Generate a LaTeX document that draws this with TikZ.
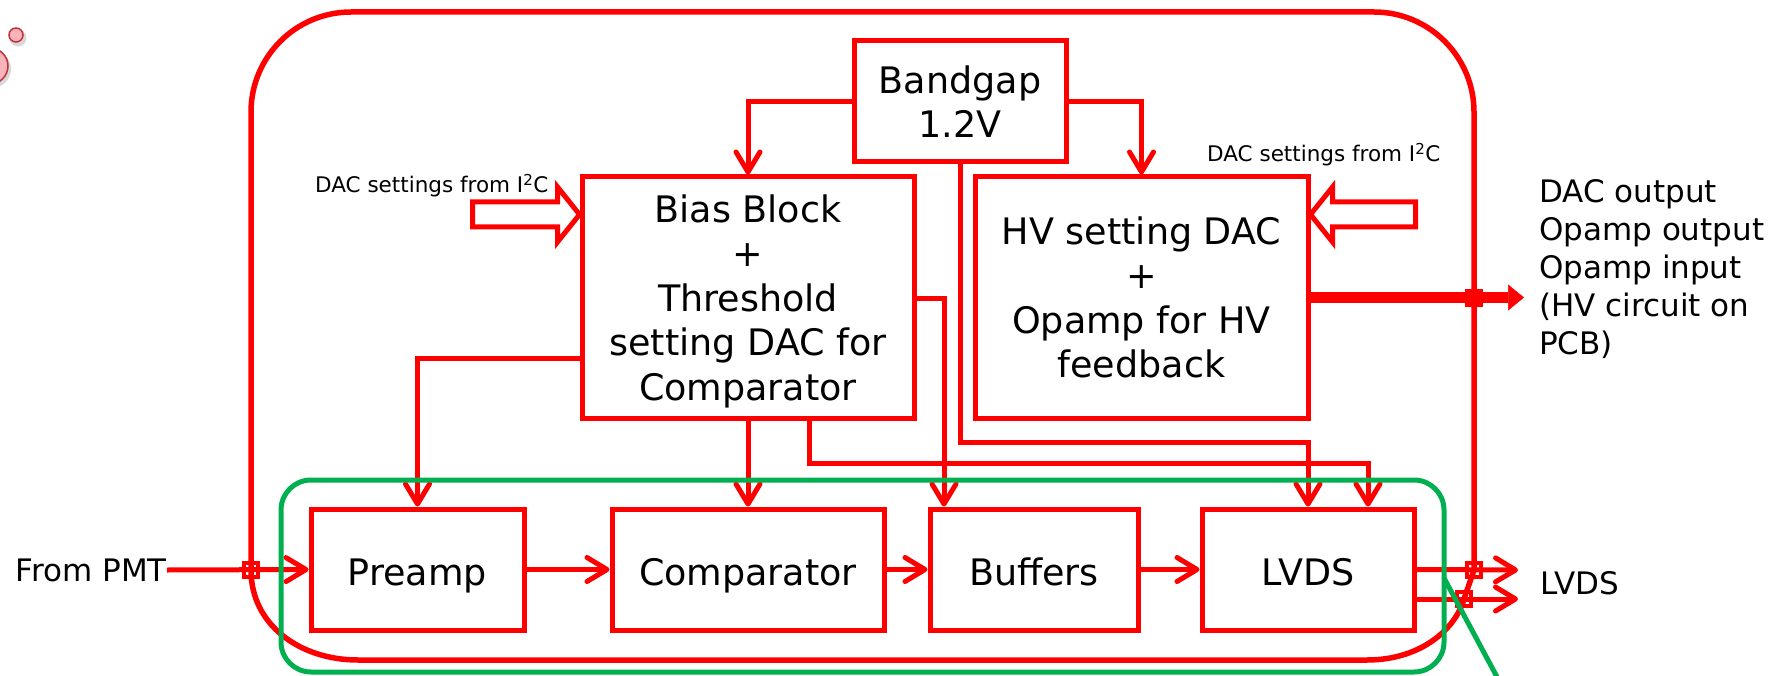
\documentclass[tikz,border=0pt]{standalone}
\usepackage{fontspec}
\setmainfont{DejaVu Sans}
\usetikzlibrary{arrows.meta}
\definecolor{sigred}{RGB}{255,0,0}
\definecolor{boxgreen}{RGB}{0,176,80}
\definecolor{bubblefill}{RGB}{248,180,186}
\definecolor{bubbleline}{RGB}{196,48,58}
\newcommand\blkfont{\fontsize{36.5}{44.5}\selectfont}
\newcommand\lblfont{\fontsize{31}{38}\selectfont}
\newcommand\dacfont{\fontsize{21.5}{26}\selectfont}
\begin{document}
\begin{tikzpicture}[x=1pt,y=-1pt,
  blk/.style={draw=sigred, line width=5pt, align=center, inner sep=0pt, font=\blkfont},
  rowblk/.style={blk, minimum height=121pt, text height=31pt, text depth=0pt},
  sig/.style={draw=sigred, line width=5pt},
  ar/.style={sig, -{Straight Barb[length=20pt,width=24pt,round]}},
  pad/.style={draw=sigred, line width=4pt, rectangle, minimum size=14pt, inner sep=0pt},
  hollow/.style={draw=sigred, fill=white, line width=5pt, line join=miter},
  grn/.style={draw=boxgreen, line width=5pt},
  lbl/.style={inner sep=0pt, font=\lblfont},
  dac/.style={inner sep=0pt, font=\dacfont, anchor=base west}]
\useasboundingbox (0,0) rectangle (1779,676);
\clip (0,0) rectangle (1779,676);

% decorative bubbles in the corner
\fill[black!25, opacity=0.6] (18,38) circle[radius=8.5pt];
\draw[bubbleline, fill=bubblefill, line width=1.5pt] (16,35) circle[radius=7pt];
\fill[black!25, opacity=0.6] (-8,69) circle[radius=19pt];
\draw[bubbleline, fill=bubblefill, line width=1.5pt] (-10,66) circle[radius=18pt];

% chip pads
\coordinate (pL) at (251,570);
\coordinate (pR1) at (1474,570);
\coordinate (pR2) at (1464,599);
\coordinate (pHV) at (1474,297.5);

% chip outline
\draw[sig, line width=5.5pt] (pL) -- (251,112) .. controls (251,56.8) and (295.8,12) .. (351,12)
  -- (1374,12) .. controls (1429.2,12) and (1474,56.8) .. (1474,112)
  -- (pR1) -- (pR2) .. controls (1455,630) and (1420,660) .. (1367,660)
  -- (358,660) .. controls (300,660) and (251,625) .. (pL);

% blocks
\node[blk, minimum width=212pt, minimum height=121pt] (bg) at (960,101.5) {Bandgap\\1.2V};
\node[blk, minimum width=332pt, minimum height=241pt, text depth=0pt] (bias) at (748,297.5)
  {Bias Block\\+\\Threshold\\setting DAC for\\Comparator};
\node[blk, minimum width=333pt, minimum height=241pt] (hv) at (1141.5,297.5)
  {HV setting DAC\\+\\Opamp for HV\\feedback};
\node[rowblk, minimum width=213pt] (pre) at (417.5,569.5) {Preamp};
\node[rowblk, minimum width=272pt] (cmp) at (748,569.5) {Comparator};
\node[rowblk, minimum width=208pt] (buf) at (1034,569.5) {Buffers};
\node[rowblk, minimum width=212pt] (lvds) at (1308,569.5) {LVDS};

% labels
\node[lbl, anchor=east] (pmt) at (167,570) {From PMT};
\node[lbl, anchor=west] (lvdslbl) at (1540,583.7) {LVDS};
\node[lbl, align=left, anchor=north west] (dacout) at (1539,179.4)
  {DAC output\\Opamp output\\Opamp input\\(HV circuit on\\PCB)};
\node[dac] (dacL) at (315,193) {DAC settings from I\textsuperscript{2}C};
\node[dac] (dacR) at (1207,162) {DAC settings from I\textsuperscript{2}C};

% routing points
\coordinate (j1) at (960,442);
\coordinate (j2) at (416,358);
\coordinate (j3) at (809,463);
\coordinate (j4) at (1368,463);
\coordinate (j5) at (944,298);
\coordinate (out1) at (1518,570);
\coordinate (out2) at (1518,599);
\coordinate (hvout) at (1524,297.5);

% signal chain
\draw[ar] (pmt.east) -- (pre.west);
\draw[ar] (pre.east) -- (cmp.west);
\draw[ar] (cmp.east) -- (buf.west);
\draw[ar] (buf.east) -- (lvds.west);
\draw[ar] (lvds.east) -- (out1);
\draw[ar] (lvds.east |- out2) -- (out2);

% references and biases
\draw[ar] (bg.west) -| (bias.north);
\draw[ar] (bg.east) -| (hv.north);
\draw[ar] (bg.south) -- (j1) -| (lvds.north);
\draw[ar] (bias.west |- j2) -| (pre.north);
\draw[ar] (bias.south) -- (cmp.north);
\draw[ar] (bias.south -| j3) -- (j3) -- (j4) -- (lvds.north -| j4);
\draw[ar] (bias.east |- j5) -- (j5) -- (buf.north -| j5);

% HV output bus
\draw[draw=sigred, line width=11pt, -{Triangle[length=16pt,width=26pt,line width=0.5pt]}] (hv.east) -- (hvout);

% DAC setting inputs
\path (bias.west) ++(0,-83) coordinate (tipL);
\path (hv.east) ++(0,-83) coordinate (tipR);
\draw[hollow] (tipL) -- ++(-22,-27.5) -- ++(0,15) -- ++(-85,0) -- ++(0,25) -- ++(85,0) -- ++(0,15) -- cycle;
\draw[hollow] (tipR) -- ++(22,-27.5) -- ++(0,15) -- ++(83,0) -- ++(0,25) -- ++(-83,0) -- ++(0,15) -- cycle;

% pads on the chip boundary
\node[pad] (padL) at (pL) {};
\node[pad] (padR1) at (pR1) {};
\node[pad] (padR2) at (pR2) {};
\node[pad] (padHV) at (pHV) {};

% front-end group
\draw[grn, rounded corners=30pt] (281,480) rectangle (1444,672);
\draw[grn] (1444,578) -- (1504,690);
\end{tikzpicture}
\end{document}
